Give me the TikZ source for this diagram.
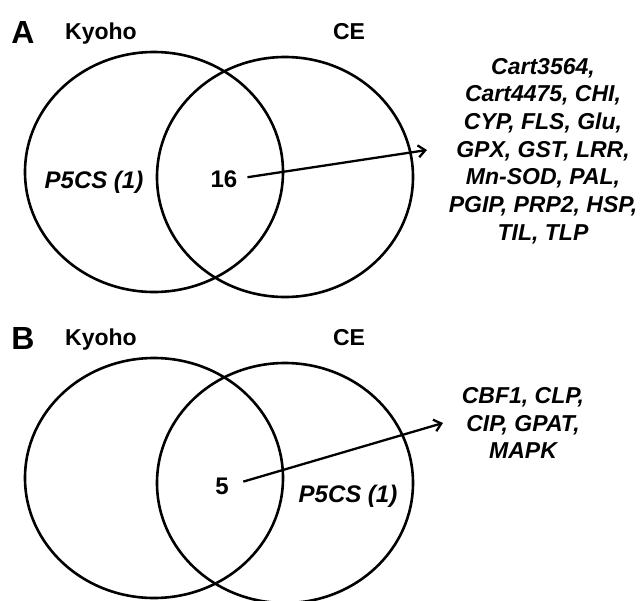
\documentclass[tikz,border=0pt]{standalone}
\usepackage{fontspec}
\setmainfont{Liberation Sans}
\usepackage{tikz}
\usetikzlibrary{arrows.meta,positioning}
\newcommand{\PanelGap}{306}
\tikzset{
  venn/.style={draw, line width=2.6pt},
  panelLabel/.style={font=\fontsize{32}{32}\selectfont\bfseries, inner sep=0pt},
  setName/.style={font=\fontsize{23}{26}\selectfont\bfseries, inner sep=0pt},
  count/.style={font=\fontsize{24}{26}\selectfont\bfseries, inner sep=0pt},
  gene/.style={font=\fontsize{24}{26}\selectfont\bfseries\itshape, inner sep=0pt},
  geneList/.style={align=center, inner sep=0pt,
    font=\fontsize{23}{27.7}\selectfont\bfseries\itshape},
  pointer/.style={-{Straight Barb[length=7pt,width=12pt]}, line width=2.3pt}
}
\newcommand{\VennPanel}[2]{% #1=panel letter, #2=vertical offset
  \node[panelLabel, anchor=base] (lab#1) at (23,{43+#2}) {#1};
  \node[setName, anchor=base] (kyoho#1) at (101,{39+#2}) {Kyoho};
  \node[setName, anchor=base] (ce#1) at (349,{39+#2}) {CE};
  \draw[venn] (154,{172+#2}) ellipse[x radius=129pt, y radius=120pt];
  \draw[venn] (285,{177+#2}) ellipse[x radius=128pt, y radius=120pt];
}

\begin{document}
\begin{tikzpicture}[x=1pt, y=-1pt]
  \useasboundingbox (0,0) rectangle (640,600);
  % Panel A
  \VennPanel{A}{0}
  \node[gene, anchor=base] (p5csA) at (94,188) {P5CS (1)};
  \node[count, anchor=base] (numA) at (224,187) {16};
  \node[geneList] (genesA) at (543,151) {Cart3564,\\Cart4475, CHI,\\CYP, FLS, Glu,\\GPX, GST, LRR,\\Mn-SOD, PAL,\\PGIP, PRP2, HSP,\\TIL, TLP};
  \coordinate (tipA) at (427,150);
  \draw[pointer, shorten <=10pt] (numA.east) -- (tipA);
  % Panel B
  \VennPanel{B}{\PanelGap}
  \node[count, anchor=base] (numB) at (222,494) {5};
  \node[gene, anchor=base] (p5csB) at (348,502) {P5CS (1)};
  \node[geneList] (genesB) at (523,423) {CBF1, CLP,\\CIP, GPAT,\\MAPK};
  \coordinate (tipB) at (443,423);
  \draw[pointer, shorten <=15pt] (numB.east) -- (tipB);
\end{tikzpicture}
\end{document}
